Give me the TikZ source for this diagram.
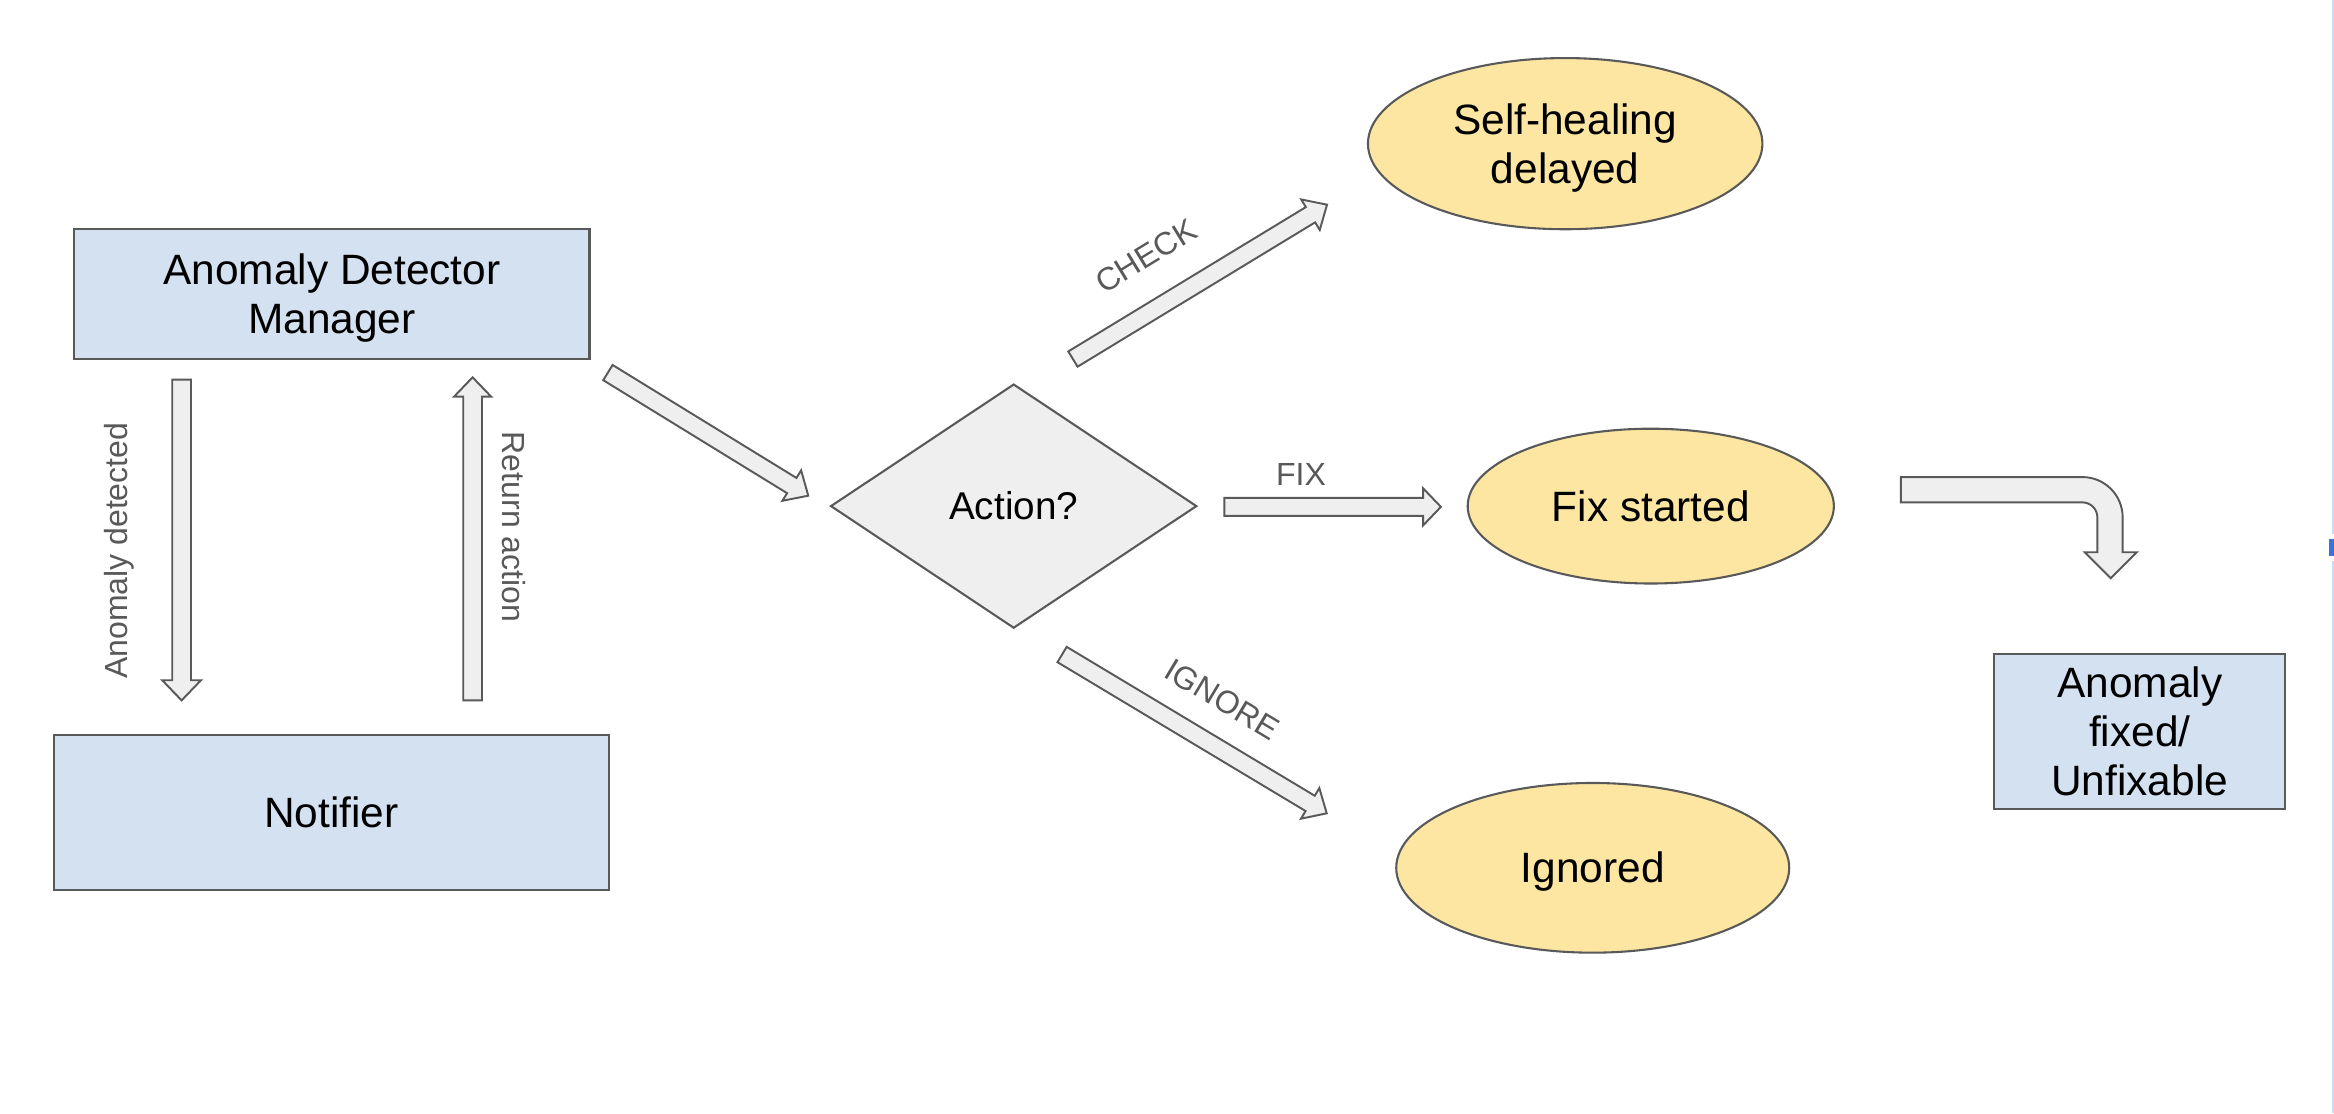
\documentclass[tikz,border=0pt]{standalone}
\usepackage{fontspec}
\setmainfont{Liberation Sans}
\usetikzlibrary{calc,shapes.geometric}
\definecolor{boxblue}{HTML}{D4E1F1}
\definecolor{stateyellow}{HTML}{FCE6A2}
\definecolor{arrowgray}{HTML}{EFEFEF}
\definecolor{strokegray}{HTML}{595959}
\definecolor{labelgray}{HTML}{595959}
\definecolor{edgeblue}{HTML}{C6DAFC}
\definecolor{tickblue}{HTML}{3A74DA}
% #1 tail, #2 tip, #3 shaft half width, #4 head half width, #5 head length
\newcommand{\blockarrow}[5]{%
  \coordinate (ba-h) at ($(#2)!#5!(#1)$);
  \draw[barrow] ($(#1)!#3!90:(#2)$) -- ($(ba-h)!#3!-90:(#1)$) -- ($(ba-h)!#4!-90:(#1)$)
    -- (#2) -- ($(ba-h)!#4!90:(#1)$) -- ($(ba-h)!#3!90:(#1)$) -- ($(#1)!#3!-90:(#2)$) -- cycle;
}
\begin{document}
\begin{tikzpicture}[x=1pt,y=-1pt,
  bigtext/.style={font=\fontsize{28.5}{33}\selectfont},
  bluebox/.style={rectangle, draw=strokegray, line width=1.4pt, fill=boxblue, align=center, inner sep=0pt, bigtext},
  statenode/.style={ellipse, draw=strokegray, line width=1.4pt, fill=stateyellow, align=center, inner sep=0pt, bigtext},
  decision/.style={diamond, draw=strokegray, line width=1.4pt, fill=arrowgray, aspect=1.5, inner sep=0pt, font=\fontsize{26}{30}\selectfont},
  lbl/.style={text=labelgray, inner sep=0pt, font=\fontsize{21.5}{25}\selectfont},
  barrow/.style={draw=strokegray, line width=1.3pt, fill=arrowgray, line join=miter}]
\useasboundingbox (0,0) rectangle (1568,748);
\fill[white] (0,0) rectangle (1568,748);

% right-edge artefact
\fill[edgeblue] (1566.3,0) rectangle (1568,359);
\fill[edgeblue] (1566.3,377) rectangle (1568,748);
\fill[tickblue] (1564.5,362) rectangle (1568,373.5);

% nodes
\node[bluebox, minimum width=346pt, minimum height=87pt, text depth=0pt] (adm) at (223,197.5) {Anomaly Detector\\Manager};
\node[bluebox, minimum width=373pt, minimum height=104pt] (notif) at (222.5,546) {Notifier};
\node[decision, minimum width=246pt, minimum height=164pt] (act) at (681,340) {Action?};
\node[statenode, minimum width=265pt, minimum height=115pt, text depth=0pt] (heal) at (1051.5,96.5) {Self-healing\\delayed};
\node[statenode, minimum width=246pt, minimum height=104pt] (fix) at (1109,340) {Fix started};
\node[statenode, minimum width=264pt, minimum height=114pt, text depth=1.5pt] (ign) at (1070,583) {Ignored};
\node[bluebox, minimum width=195.5pt, minimum height=104pt] (done) at (1437.5,491.5) {Anomaly\\fixed/\\Unfixable};

% arrow end points
\coordinate (adTail) at (122,255);
\coordinate (adTip) at (122,470.5);
\coordinate (raTail) at (317.5,470.5);
\coordinate (raTip) at (317.5,253.5);
\coordinate (mTail) at (408.4,250.3);
\coordinate (mTip) at (543,333);
\coordinate (cTail) at (720.8,241.2);
\coordinate (cTip) at (891.5,137.5);
\coordinate (fTail) at (822.5,340.5);
\coordinate (fTip) at (968,340.5);
\coordinate (iTail) at (713.5,439.7);
\coordinate (iTip) at (891.3,546.4);

\blockarrow{adTail}{adTip}{6.3pt}{13pt}{13.5pt}
\blockarrow{raTail}{raTip}{6.3pt}{12.5pt}{13pt}
\blockarrow{mTail}{mTip}{6pt}{12pt}{13pt}
\blockarrow{cTail}{cTip}{6pt}{12pt}{13pt}
\blockarrow{fTail}{fTip}{6pt}{12.5pt}{12pt}
\blockarrow{iTail}{iTip}{6pt}{12pt}{13pt}

% bent arrow
\coordinate (bTail) at (1277,329);
\coordinate (bTip) at (1418,388.5);
\draw[barrow] ($(bTail)+(0,-8.5)$) -- (1399,320.5) .. controls (1413.9,320.5) and (1426,332.6) .. (1426,347.5)
  -- (1426,371) -- (1435.5,371) -- (bTip) -- (1400.5,371) -- (1409,371) -- (1409,347.5)
  .. controls (1409,342) and (1404.5,337.5) .. (1399,337.5) -- ($(bTail)+(0,8.5)$) -- cycle;

% labels
\node[lbl, rotate=90] (lad) at (80,370) {Anomaly detected};
\node[lbl, rotate=-90] (lra) at (345,354) {Return action};
\node[lbl, rotate=31.5] (lcheck) at (770,172) {CHECK};
\node[lbl] (lfix) at (874,319) {FIX};
\node[lbl, rotate=-31] (lign) at (821,470) {IGNORE};
\end{tikzpicture}
\end{document}
